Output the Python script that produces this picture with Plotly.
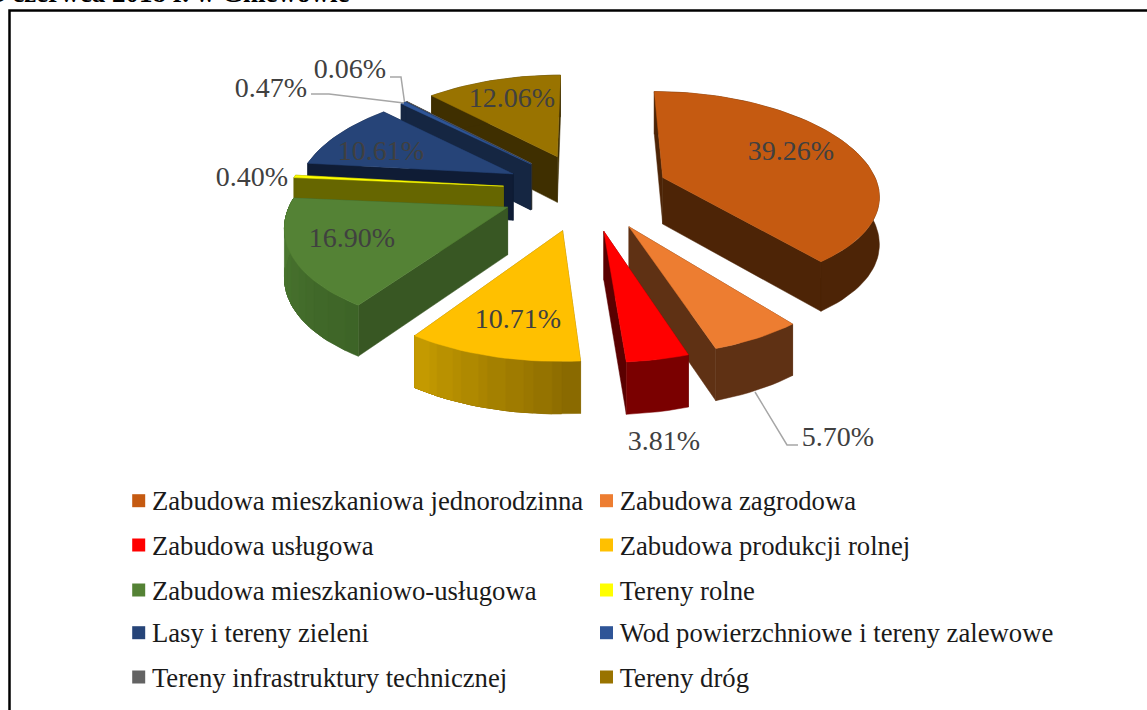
import math
import plotly.graph_objects as go

# ---------- data ----------
categories = ["Zabudowa mieszkaniowa jednorodzinna", "Zabudowa zagrodowa", "Zabudowa usługowa",
              "Zabudowa produkcji rolnej", "Zabudowa mieszkaniowo-usługowa", "Tereny rolne",
              "Lasy i tereny zieleni", "Wod powierzchniowe i tereny zalewowe",
              "Tereny infrastruktury technicznej", "Tereny dróg"]
shares = [39.26, 5.70, 3.81, 10.71, 16.90, 0.40, 10.61, 0.47, 0.06, 12.06]
heading = "3 czerwca 2018 r. w Gniewowie"

# ---------- styles ----------
top_colors = ["#C55A11", "#ED7D31", "#FF0000", "#FFC000", "#548235", "#FFFF00", "#264478", "#2F5597", "#636363", "#997300"]
cut_colors = ["#4D2406", "#5F3114", "#5A0000", "#8A6A00", "#385723", "#666600", "#0F1C35", "#152642", "#333333", "#3F2F00"]
rim_from = ["#4D2406", "#5F3114", "#7A0000", "#8A6A00", "#3D6427", "#666600", "#0F1C35", "#152642", "#333333", "#3F2F00"]
rim_to = ["#4D2406", "#5F3114", "#7A0000", "#C49A00", "#4E7B32", "#666600", "#0F1C35", "#152642", "#333333", "#3F2F00"]
label_xy = [(791, 151), (838, 437), (664, 441), (518, 319), (352, 238), (252, 177), (381, 151), (271, 88), (350, 69), (512, 98)]
leaders = [None, [(755, 392), (787, 445), (798, 445)], None, None, None, None, None,
           [(311, 94), (329, 94), (404, 103)], [(390, 77), (401, 77), (404.5, 102)], None]

# projection constants
CX, CY = 586, 190
APEX_X, APEX_Y, APEX_P = 220.0, 101.6, 0.224
RX, RY = 215.0, 100.3
K, K2, KX, KY, CONV = 0.132, 0.163, 0.10, 0.275, 0.11
EXPLODE = 0.38
HEIGHT = 47.0


def hex2rgb(h):
    return tuple(int(h[i:i + 2], 16) for i in (1, 3, 5))


def mix(a, b, t):
    ca, cb = hex2rgb(a), hex2rgb(b)
    return "#%02X%02X%02X" % tuple(round(p + (q - p) * t) for p, q in zip(ca, cb))


total = sum(shares)
slices = []
cum = 0.0
for i, v in enumerate(shares):
    t0 = cum / total * 2 * math.pi
    cum += v
    t1 = cum / total * 2 * math.pi
    tm = (t0 + t1) / 2
    ex, ey = EXPLODE * math.sin(tm), -EXPLODE * math.cos(tm)
    s = 1 / (1 - APEX_P * ey)
    slices.append(dict(i=i, t0=t0, t1=t1, ax=APEX_X * ex * s, ay=CY + APEX_Y * ey * s, ey=ey))


def point(sl, x, y):
    ey = sl["ey"]
    px = CX + sl["ax"] * (1 + CONV * y) + RX * x / (1 - K2 * y - KX * ey)
    py = sl["ay"] + RY * y / (1 - K * y - KY * ey)
    return px, py, HEIGHT + 4.0 * (ey + y)


fig = go.Figure()


def poly(pts, color):
    fig.add_trace(go.Scatter(x=[p[0] for p in pts] + [pts[0][0]], y=[p[1] for p in pts] + [pts[0][1]],
                             mode="lines", fill="toself", fillcolor=color,
                             line=dict(color=color, width=0.5), hoverinfo="skip", showlegend=False))


for sl in sorted(slices, key=lambda s: s["ay"]):
    i = sl["i"]
    n = max(2, int((sl["t1"] - sl["t0"]) / math.radians(2)))
    angles = [sl["t0"] + (sl["t1"] - sl["t0"]) * k / n for k in range(n + 1)]
    apex = point(sl, 0, 0)
    rim = [point(sl, math.sin(a), -math.cos(a)) for a in angles]
    # radial cut faces, farther one first
    faces = sorted([rim[0], rim[-1]], key=lambda r: (apex[1] + r[1]) / 2)
    for r in faces:
        poly([(apex[0], apex[1]), (r[0], r[1]), (r[0], r[1] + r[2]), (apex[0], apex[1] + apex[2])], cut_colors[i])
    # outer wall: each band overlays the rest of the rim, so no seams appear
    bands = 12 if rim_from[i] != rim_to[i] else 1
    for b in range(bands):
        part = rim[round(b * n / bands):]
        poly([(r[0], r[1]) for r in part] + [(r[0], r[1] + r[2]) for r in reversed(part)],
             mix(rim_from[i], rim_to[i], b / max(1, bands - 1)))
    poly([(apex[0], apex[1])] + [(r[0], r[1]) for r in rim], top_colors[i])

# leader lines
for seg in leaders:
    if seg:
        fig.add_trace(go.Scatter(x=[p[0] for p in seg], y=[p[1] for p in seg], mode="lines",
                                 line=dict(color="#A6A6A6", width=1.5), hoverinfo="skip", showlegend=False))

# percent labels
fig.add_trace(go.Scatter(x=[p[0] for p in label_xy], y=[p[1] + 2 for p in label_xy], mode="text",
                         text=[f"{v:.2f}%" for v in shares], textposition="middle center",
                         textfont=dict(family="Liberation Serif", size=28, color="#404040"),
                         hoverinfo="skip", showlegend=False))

# legend, two columns read row by row
LEG_X = [138.7, 606.5]
LEG_Y = [500.7, 545, 590, 632.7, 677]
LEG_GAP = 13.2
for k, name in enumerate(categories):
    lx, ly = LEG_X[k % 2], LEG_Y[k // 2]
    fig.add_trace(go.Scatter(x=[lx], y=[ly], mode="markers", name=name,
                             marker=dict(symbol="square", size=13, color=top_colors[k]),
                             hoverinfo="name", showlegend=False))
    fig.add_trace(go.Scatter(x=[lx + LEG_GAP], y=[ly + 3], mode="text", text=[name], textposition="middle right",
                             textfont=dict(family="Liberation Serif", size=26.7, color="#1A1A1A"),
                             hoverinfo="skip", showlegend=False))

fig.add_annotation(x=350, y=3, xref="x", yref="y", xanchor="right", yanchor="bottom", text=f"<b>{heading}</b>",
                   showarrow=False, font=dict(family="Liberation Serif", size=27, color="#000000"), borderpad=0, yshift=-6)

fig.add_shape(type="rect", x0=9.5, y0=10.5, x1=1170, y1=730, xref="x", yref="y",
              line=dict(color="#000000", width=2.5), layer="above")

fig.update_layout(width=1147, height=710, margin=dict(l=0, r=0, t=0, b=0), paper_bgcolor="white", plot_bgcolor="white",
                  xaxis=dict(range=[0, 1147], visible=False, fixedrange=True),
                  yaxis=dict(range=[710, 0], visible=False, fixedrange=True), showlegend=False)
fig.write_html("out.html", config={"displayModeBar": False},
               post_script="document.body.style.margin='0';document.body.style.overflow='hidden';")
